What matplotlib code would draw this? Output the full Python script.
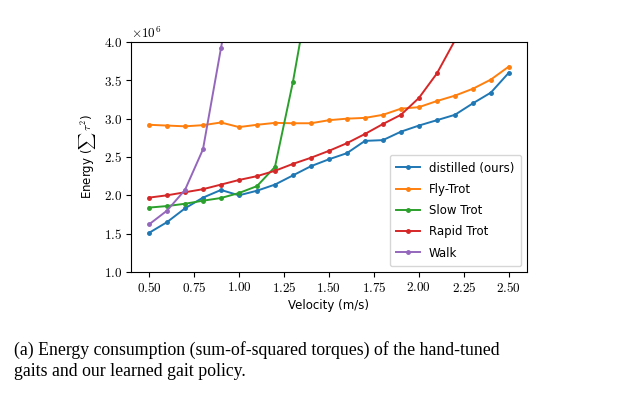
"""Energy vs velocity for hand-tuned gaits and the distilled policy."""

import matplotlib

matplotlib.use("Agg")
import matplotlib.pyplot as plt
from matplotlib.ticker import FuncFormatter

# velocities (m/s)
vel_full = [0.5, 0.6, 0.7, 0.8, 0.9, 1.0, 1.1, 1.2, 1.3, 1.4, 1.5, 1.6, 1.7,
            1.8, 1.9, 2.0, 2.1, 2.2, 2.3, 2.4, 2.5]

# energy values, in units of 1e6
distilled = [1.51, 1.65, 1.83, 1.97, 2.07, 2.00, 2.06, 2.14, 2.26, 2.38, 2.47,
             2.55, 2.71, 2.72, 2.83, 2.91, 2.98, 3.05, 3.20, 3.34, 3.60]
fly_trot = [2.92, 2.91, 2.90, 2.915, 2.95, 2.89, 2.92, 2.945, 2.94, 2.94, 2.98,
            3.00, 3.01, 3.05, 3.13, 3.15, 3.23, 3.30, 3.39, 3.51, 3.68]

vel_slow = [0.5, 0.6, 0.7, 0.8, 0.9, 1.0, 1.1, 1.2, 1.3, 1.4]
slow_trot = [1.84, 1.86, 1.89, 1.93, 1.965, 2.03, 2.12, 2.37, 3.48, 4.80]

vel_rapid = [0.5, 0.6, 0.7, 0.8, 0.9, 1.0, 1.1, 1.2, 1.3, 1.4, 1.5, 1.6, 1.7,
             1.8, 1.9, 2.0, 2.1, 2.2, 2.3]
rapid_trot = [1.97, 2.00, 2.04, 2.08, 2.14, 2.20, 2.25, 2.32, 2.41, 2.49, 2.58,
              2.68, 2.80, 2.93, 3.05, 3.27, 3.59, 4.02, 4.60]

vel_walk = [0.5, 0.6, 0.7, 0.8, 0.9, 1.0]
walk = [1.62, 1.80, 2.07, 2.60, 3.92, 5.20]

series = [
    ("distilled (ours)", vel_full, distilled, "#1f77b4"),
    ("Fly-Trot", vel_full, fly_trot, "#ff7f0e"),
    ("Slow Trot", vel_slow, slow_trot, "#2ca02c"),
    ("Rapid Trot", vel_rapid, rapid_trot, "#d62728"),
    ("Walk", vel_walk, walk, "#9467bd"),
]

x_ticks = [0.5, 0.75, 1.0, 1.25, 1.5, 1.75, 2.0, 2.25, 2.5]
y_ticks = [1.0, 1.5, 2.0, 2.5, 3.0, 3.5, 4.0]

caption = ("(a) Energy consumption (sum-of-squared torques) of the hand-tuned\n"
           "gaits and our learned gait policy.")

plt.rcParams["mathtext.fontset"] = "cm"
plt.rcParams["font.family"] = "DejaVu Sans"

fig = plt.figure(figsize=(6.25, 3.98), dpi=100)
ax = fig.add_axes([0.2096, 0.3166, 0.6334, 0.5779])

for label, xs, ys, color in series:
    ax.plot(xs, [v * 1e6 for v in ys], marker=".", markersize=5,
            linewidth=1.4, color=color, label=label)

ax.set_xlim(0.4, 2.6)
ax.set_ylim(1.0e6, 4.0e6)
ax.set_xticks(x_ticks)
ax.set_yticks([v * 1e6 for v in y_ticks])
ax.xaxis.set_major_formatter(FuncFormatter(lambda v, _: f"${v:.2f}$"))
ax.yaxis.set_major_formatter(FuncFormatter(lambda v, _: f"${v / 1e6:.1f}$"))
ax.tick_params(labelsize=9.5, length=3.5, width=0.8, pad=3)
ax.text(0.0, 1.005, r"$\times10^{6}$", transform=ax.transAxes,
        fontsize=9.5, ha="left", va="bottom")

ax.set_xlabel("Velocity (m/s)", fontsize=8.5, labelpad=3)
ax.set_ylabel(r"Energy ($\sum\,\tau^2$)", fontsize=8.5, labelpad=4)

ax.legend(loc="lower right", fontsize=8.5, handlelength=2.0,
          borderpad=0.55, labelspacing=0.7, framealpha=0.8)

fig.text(0.022, 0.143, caption, fontsize=12.8, family="Liberation Serif",
         ha="left", va="top", linespacing=1.3)

fig.savefig("out.png", dpi=100)
